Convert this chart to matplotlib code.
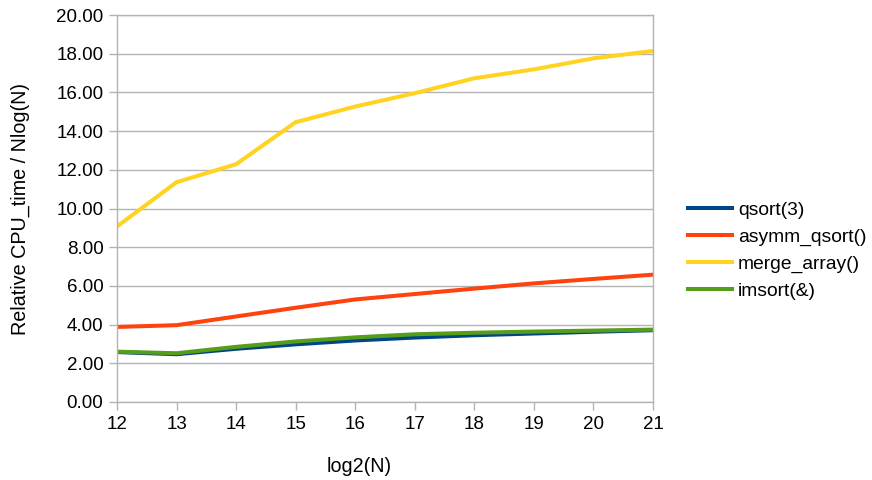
import matplotlib
matplotlib.use("Agg")
import matplotlib.pyplot as plt
from matplotlib.ticker import FormatStrFormatter

plt.rcParams['font.family'] = ['Liberation Sans', 'DejaVu Sans']

log2n = [12, 13, 14, 15, 16, 17, 18, 19, 20, 21]
qsort3 = [2.58, 2.47, 2.75, 2.98, 3.18, 3.33, 3.45, 3.54, 3.63, 3.71]
asymm_qsort = [3.88, 3.97, 4.42, 4.87, 5.30, 5.58, 5.86, 6.13, 6.36, 6.58]
merge_array = [9.07, 11.36, 12.29, 14.46, 15.27, 15.96, 16.73, 17.19, 17.76, 18.14]
imsort = [2.60, 2.52, 2.85, 3.13, 3.34, 3.50, 3.58, 3.64, 3.69, 3.74]
series_names = ["qsort(3)", "asymm_qsort()", "merge_array()", "imsort(&)"]
colors = ["#004586", "#ff420e", "#ffd320", "#579d1c"]

fs = 13.5
fs_lab = 14.2
fs_leg = 13.9
fig = plt.figure(figsize=(8.72, 4.8), dpi=100)
ax = fig.add_axes([117/872, 1-402/480, (653-117)/872, (402-15)/480])

lw = 2.9
for vals, name, c in zip([qsort3, asymm_qsort, merge_array, imsort], series_names, colors):
    ax.plot(log2n, vals, color=c, lw=lw, label=name, solid_joinstyle='round')

ax.set_xlim(12, 21)
ax.set_ylim(0, 20)
ax.set_xticks(log2n)
ax.set_yticks(range(0, 21, 2))
ax.yaxis.set_major_formatter(FormatStrFormatter('%.2f'))
ax.grid(axis='y', color='#b3b3b3', lw=1)
ax.set_axisbelow(True)
for s in ax.spines.values():
    s.set_color('#b3b3b3')
    s.set_linewidth(1)
ax.tick_params(axis='both', colors='#b3b3b3', length=5.8, width=1, labelcolor='black', labelsize=fs)
ax.tick_params(axis='x', pad=4)
ax.tick_params(axis='y', pad=4)

fig.text(20/872, 1-(209/480), "Relative CPU_time / Nlog(N)", rotation=90, ha='center', va='center', fontsize=fs_lab)
fig.text(359/872, 1-467/480, "log2(N)", ha='center', va='center', fontsize=fs_lab)

leg = fig.legend(loc='center left', bbox_to_anchor=(688/872, 1-250.5/480), frameon=False,
                 fontsize=fs_leg, handlelength=2.3, handletextpad=0.28, labelspacing=0.48,
                 borderpad=0, borderaxespad=0)
for l in leg.get_lines():
    l.set_linewidth(lw)

fig.savefig("out.png", dpi=100)
